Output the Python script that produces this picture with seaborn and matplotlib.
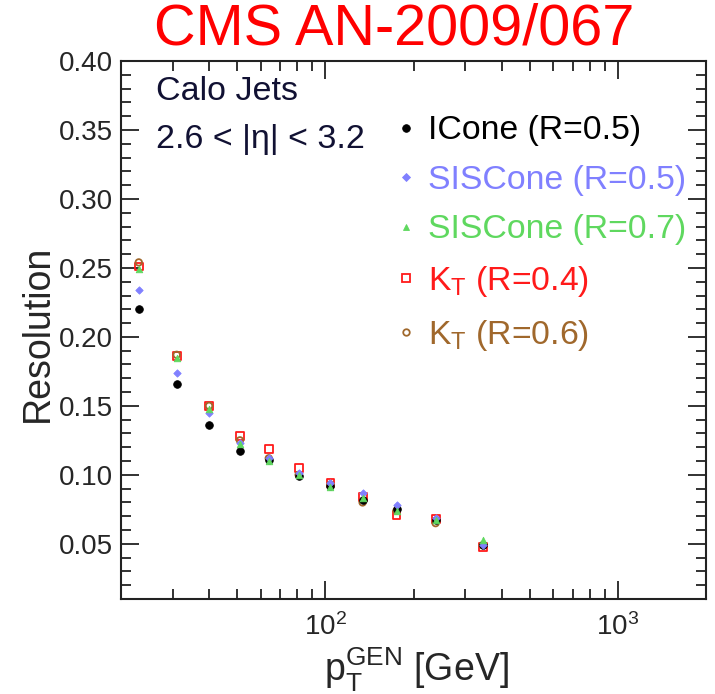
import matplotlib
matplotlib.use("Agg")
import matplotlib.pyplot as plt
from matplotlib.lines import Line2D
import seaborn as sns
import numpy as np
import pandas as pd
from matplotlib.ticker import LogLocator, FixedLocator, MultipleLocator, FormatStrFormatter

# generator-level jet pT bin centres [GeV]
pt_gen = [23, 31, 40, 51, 64, 81, 104, 134, 175, 238, 345]

# jet energy resolution per algorithm
res_icone05 = [0.220, 0.166, 0.136, 0.117, 0.111, 0.099, 0.092, 0.082, 0.075, 0.067, 0.049]
res_siscone05 = [0.234, 0.174, 0.145, 0.123, 0.112, 0.101, 0.094, 0.087, 0.078, 0.069, 0.049]
res_siscone07 = [0.249, 0.185, 0.148, 0.122, 0.110, 0.100, 0.091, 0.083, 0.074, 0.067, 0.053]
res_kt04 = [0.251, 0.186, 0.150, 0.128, 0.119, 0.105, 0.094, 0.084, 0.071, 0.068, 0.048]
res_kt06 = [0.254, 0.187, 0.150, 0.125, 0.112, 0.100, 0.093, 0.080, 0.074, 0.065, 0.049]

algorithms = ["ICone (R=0.5)", "SISCone (R=0.5)", "SISCone (R=0.7)",
              r"K$_\mathrm{T}$ (R=0.4)", r"K$_\mathrm{T}$ (R=0.6)"]
y_ticks = [0.05, 0.10, 0.15, 0.20, 0.25, 0.30, 0.35, 0.40]

series = [res_icone05, res_siscone05, res_siscone07, res_kt04, res_kt06]
colors = ["#000000", "#8080ff", "#5fd85f", "#ff1a1a", "#a0682c"]
markers = ["o", "D", "^", "s", "o"]
filled = [True, True, True, False, False]
sizes = [30, 14, 22, 32, 22]

df = pd.concat([pd.DataFrame({"pt": pt_gen, "res": r, "algo": a})
                for r, a in zip(series, algorithms)], ignore_index=True)

sns.set_theme(style="ticks")
plt.rcParams["font.family"] = ["Liberation Sans", "DejaVu Sans"]
plt.rcParams["mathtext.fontset"] = "custom"
plt.rcParams["mathtext.rm"] = "Liberation Sans"
plt.rcParams["mathtext.it"] = "Liberation Sans:italic"
plt.rcParams["mathtext.default"] = "regular"

fig = plt.figure(figsize=(7.15, 6.94), dpi=100)
ax = fig.add_axes([121 / 715, 1 - 599 / 694, 585 / 715, 538 / 694])

handles = []
for algo, col, mk, fl, sz in zip(algorithms, colors, markers, filled, sizes):
    sub = df[df["algo"] == algo]
    if fl:
        sns.scatterplot(data=sub, x="pt", y="res", ax=ax, marker=mk, s=sz,
                        color=col, edgecolor=col, linewidth=0.6, zorder=3, legend=False)
        handles.append(Line2D([], [], ls="none", marker=mk, markersize=np.sqrt(sz),
                              color=col, markeredgewidth=0.6, label=algo))
    else:
        sns.scatterplot(data=sub, x="pt", y="res", ax=ax, marker=mk, s=sz,
                        facecolor="none", edgecolor=col, linewidth=1.3, zorder=2, legend=False)
        handles.append(Line2D([], [], ls="none", marker=mk, markersize=np.sqrt(sz),
                              markerfacecolor="none", markeredgecolor=col,
                              markeredgewidth=1.3, label=algo))

ax.set_xscale("log")
ax.set_xlim(20, 2000)
ax.set_ylim(0.01, 0.40)

ax.xaxis.set_major_locator(FixedLocator([100, 1000]))
ax.xaxis.set_minor_locator(LogLocator(base=10, subs=np.arange(2, 10) * 1.0, numticks=20))
ax.yaxis.set_major_locator(FixedLocator(y_ticks))
ax.yaxis.set_minor_locator(MultipleLocator(0.01))
ax.yaxis.set_major_formatter(FormatStrFormatter("%.2f"))

for s in ax.spines.values():
    s.set_linewidth(1.5)
    s.set_color("#222222")
ax.tick_params(which="both", direction="in", top=True, right=True, width=1.3, color="#222222")
ax.tick_params(which="major", length=13, labelsize=20, pad=6)
ax.tick_params(which="minor", length=7)
ax.tick_params(axis="x", which="major", pad=10)

ax.set_xlabel(r"p$_\mathrm{T}^\mathrm{GEN}$ [GeV]", fontsize=27, va="baseline")
ax.xaxis.set_label_coords(0.505, -0.153)
ax.set_ylabel("Resolution", fontsize=27)
ax.yaxis.set_label_coords(-0.112, 0.494)

ax.text(0.06, 0.9275, "Calo Jets", transform=ax.transAxes, fontsize=24.5,
        va="baseline", color="#111133")
ax.text(0.06, 0.838, "2.6 < |η| < 3.2", transform=ax.transAxes, fontsize=24.5,
        va="baseline", color="#111133")

leg = ax.legend(handles=handles, loc="upper left", bbox_to_anchor=(0.47, 0.899),
                frameon=False, fontsize=24.3, handlelength=0.6, handletextpad=0.35,
                labelspacing=0.55, borderpad=0, borderaxespad=0)
for txt, col in zip(leg.get_texts(), colors):
    txt.set_color(col)

fig.text(0.552, 0.957, "CMS AN-2009/067", color="#ff0000", fontsize=41.5,
         ha="center", va="center")

fig.savefig("out.png", dpi=100)
